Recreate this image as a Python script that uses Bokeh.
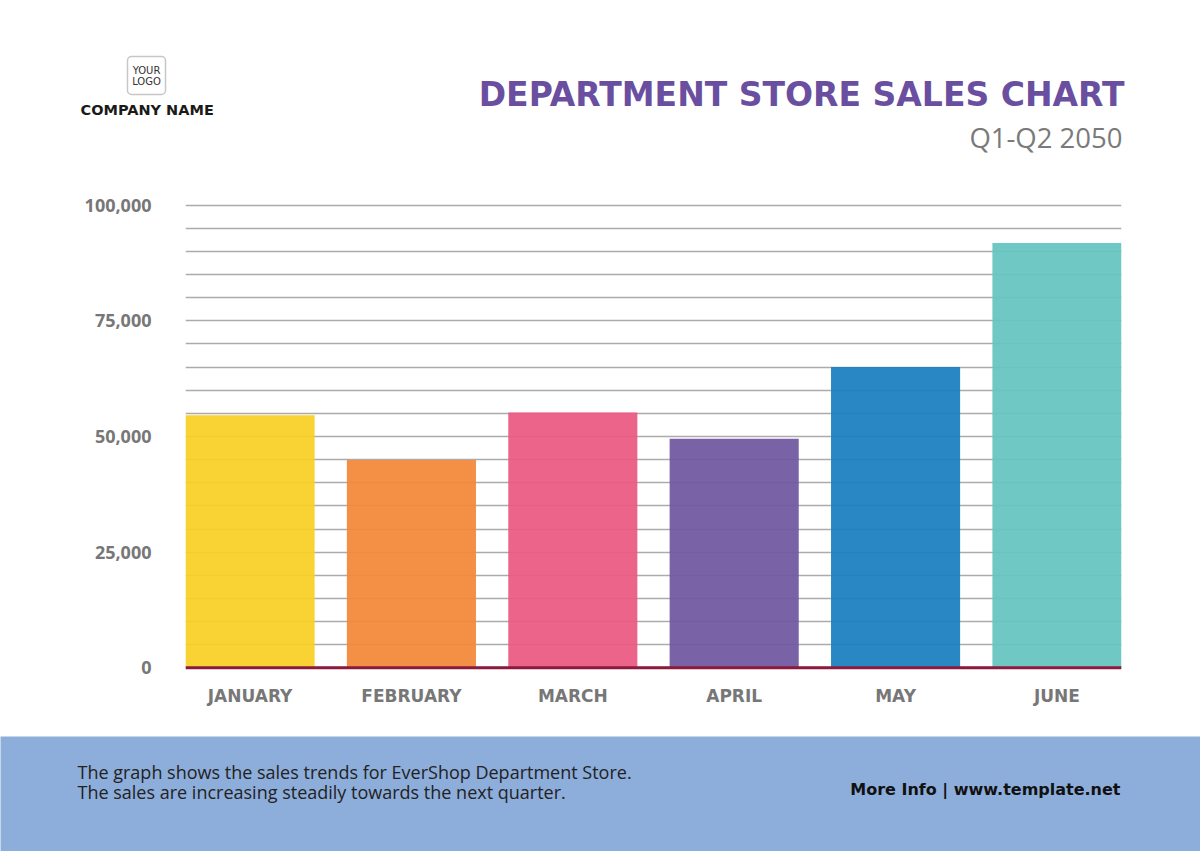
from bokeh.plotting import figure
from bokeh.layouts import column
from bokeh.models import (ColumnDataSource, Range1d, FixedTicker, NumeralTickFormatter,
                          Span, BoxAnnotation)
from bokeh.core.properties import value
from bokeh.embed import file_html
from bokeh.resources import INLINE

# ---------------- data ----------------
months = ["JANUARY", "FEBRUARY", "MARCH", "APRIL", "MAY", "JUNE"]
sales = [54600, 44900, 55200, 49500, 65000, 91800]
bar_colors = ["#F8D026", "#F2893A", "#EC5A84", "#7159A0", "#1C81BF", "#67C5C0"]
y_ticks = [0, 25000, 50000, 75000, 100000]
grid_step = 5000

title_text = "DEPARTMENT STORE SALES CHART"
subtitle_text = "Q1-Q2 2050"
company_text = "COMPANY NAME"
footer_lines = ["The graph shows the sales trends for EverShop Department Store.",
                "The sales are increasing steadily towards the next quarter."]
more_info = "More Info | www.template.net"

W = 1200
H_HDR, H_CHART, H_FTR = 190, 546, 115
BOLD = value("DejaVu Sans")
LIGHT = value("Open Sans")


def blank(height, bg):
    f = figure(width=W, height=height, x_range=Range1d(0, W), y_range=Range1d(height, 0),
               output_backend="svg", toolbar_location=None, min_border=0,
               x_axis_type=None, y_axis_type=None, outline_line_color=None,
               frame_align=False)
    f.xgrid.visible = False
    f.ygrid.visible = False
    f.background_fill_color = bg
    f.border_fill_color = bg
    return f


# ---------------- header (y = page pixel) ----------------
hdr = blank(H_HDR, "white")
hdr.text(x=[1124], y=[94], text=[title_text], text_font=BOLD, text_font_style="bold",
         text_font_size="33px", text_color="#6a4fa0", text_align="right",
         text_baseline="middle")
hdr.text(x=[1122], y=[137], text=[subtitle_text], text_font=LIGHT,
         text_font_size="27.5px", text_color="#7a7a7a", text_align="right",
         text_baseline="middle")
hdr.text(x=[80], y=[109], text=[company_text], text_font=BOLD, text_font_style="bold",
         text_font_size="14.5px", text_color="#1a1a1a", text_align="left",
         text_baseline="middle")
hdr.add_layout(BoxAnnotation(left=127, right=165, top=56, bottom=94, fill_alpha=0,
                             line_color="#444444", line_width=1.5, border_radius=4))
hdr.text(x=[146, 146], y=[70, 81], text=["YOUR", "LOGO"], text_font=value("DejaVu Sans"),
         text_font_size="10px", text_color="#333333", text_align="center",
         text_baseline="middle")

# ---------------- chart ----------------
x_idx = list(range(len(months)))
src = ColumnDataSource(dict(x=x_idx, top=sales, color=bar_colors))

p = figure(width=W, height=H_CHART, x_range=Range1d(-0.4, len(months) - 0.6),
           y_range=Range1d(-1000, 101000), output_backend="svg", toolbar_location=None,
           min_border_left=185, min_border_right=79, min_border_top=10, min_border_bottom=64,
           outline_line_color=None, frame_align=False)
p.background_fill_color = "white"
p.border_fill_color = "white"

p.vbar(x="x", top="top", bottom=0, width=0.8, fill_color="color", fill_alpha=0.94,
       line_color=None, source=src)
p.add_layout(Span(location=0, dimension="width", line_color="#8b1a3c", line_width=3))

p.xgrid.visible = False
p.ygrid.ticker = FixedTicker(ticks=list(range(0, y_ticks[-1] + 1, grid_step)))
p.ygrid.grid_line_color = "#ababab"
p.ygrid.grid_line_width = 1.5

p.yaxis.ticker = FixedTicker(ticks=y_ticks)
p.yaxis.formatter = NumeralTickFormatter(format="0,0")
p.xaxis.ticker = FixedTicker(ticks=x_idx)
p.xaxis.major_label_overrides = {i: m for i, m in enumerate(months)}

for ax in (p.xaxis, p.yaxis):
    ax.axis_line_color = None
    ax.major_tick_line_color = None
    ax.minor_tick_line_color = None
    ax.major_label_text_font_style = "bold"
    ax.major_label_text_color = "#777777"
p.yaxis.major_label_text_font = "Open Sans"
p.yaxis.major_label_text_font_size = "18px"
p.xaxis.major_label_text_font = "DejaVu Sans"
p.xaxis.major_label_text_font_size = "17px"
p.yaxis.major_label_standoff = 28
p.xaxis.major_label_standoff = 7

# ---------------- footer (y = page pixel - 736) ----------------
ftr = blank(H_FTR, "#8DADDB")
ftr.text(x=[77, 77], y=[35, 55], text=footer_lines, text_font=LIGHT,
         text_font_size="18px", text_color="#222222", text_align="left",
         text_baseline="middle")
ftr.text(x=[1120], y=[53], text=[more_info], text_font=BOLD, text_font_style="bold",
         text_font_size="16px", text_color="#111111", text_align="right",
         text_baseline="middle")

layout = column(hdr, p, ftr, spacing=0)
open("out.html", "w").write(file_html(layout, INLINE))
